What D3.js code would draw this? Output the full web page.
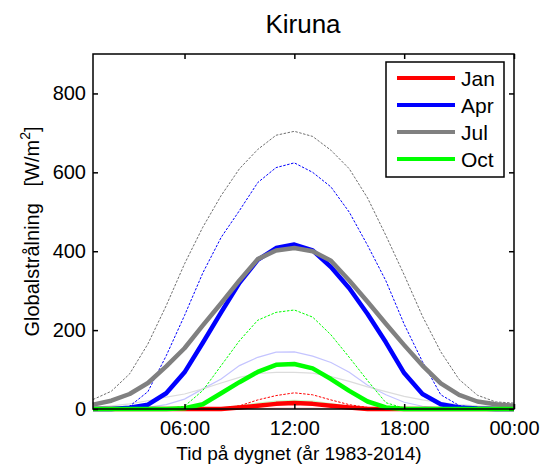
<!DOCTYPE html>
<html>
<head>
<meta charset="utf-8">
<script src="https://cdn.jsdelivr.net/npm/d3@7"></script>
<style>
  body { margin: 0; background: #fff; }
  svg { font-family: "Liberation Sans", Arial, sans-serif; }
</style>
</head>
<body>
<svg id="chart" width="546" height="468"></svg>
<script>
// hour of day (1..24), ticks and labels
var hours = [1,2,3,4,5,6,7,8,9,10,11,12,13,14,15,16,17,18,19,20,21,22,23,24];
var xTicks = [6, 12, 18, 24];
var xTickLabels = ["06:00", "12:00", "18:00", "00:00"];
var yTicks = [0, 200, 400, 600, 800];
var months = ["Jan", "Apr", "Jul", "Oct"];

// mean values (thick lines), W/m2
var janMean = [0,0,0,0,0,0,0,0,4,8,13,15,13,8,4,0,0,0,0,0,0,0,0,0];
var aprMean = [0,0,3,11,40,93,168,245,320,378,408,417,402,360,306,241,169,91,38,12,4,1,0,0];
var julMean = [11,21,38,66,108,154,212,268,326,380,402,408,400,376,326,272,216,162,110,65,36,19,12,8];
var octMean = [0,0,0,0,0,2,12,40,68,94,112,114,103,76,46,19,4,0,0,0,0,0,0,0];

// max values (thin dashed lines)
var janMax = [0,0,0,0,0,0,0,2,8,23,34,41,36,23,11,4,0,0,0,0,0,0,0,0];
var aprMax = [0,1,7,44,135,237,345,435,503,574,612,624,600,563,499,415,325,215,120,36,9,2,0,0];
var julMax = [24,45,89,165,262,368,461,541,609,658,694,704,691,656,609,535,440,340,235,145,75,35,18,15];
var octMax = [0,0,0,0,0,7,47,110,173,225,245,251,233,188,131,72,16,2,0,0,0,0,0,0];

// min values (faint lines)
var janMin = [0,0,0,0,0,0,0,0,0,1,2,2,2,1,0,0,0,0,0,0,0,0,0,0];
var aprMin = [0,0,1,4,11,25,51,76,110,131,144,145,134,118,93,60,36,17,7,2,0,0,0,0];
var julMin = [4,8,13,21,30,38,51,66,80,90,93,93,91,82,70,56,44,32,23,16,11,8,7,6];
var octMin = [0,0,0,0,0,0,0,3,8,15,20,22,20,14,7,2,0,0,0,0,0,0,0,0];

var colors = ["#ff0000", "#0000ff", "#808080", "#00ff00"];
var faint = ["#ffc8c8", "#c4c4ff", "#dcdcdc", "#c4ffc4"];

var svg = d3.select("#chart"),
  margin = {top: 54, right: 32, bottom: 59, left: 93},
  width = +svg.attr("width") - margin.left - margin.right,
  height = +svg.attr("height") - margin.top - margin.bottom,
  g = svg.append("g").attr("transform", "translate(" + margin.left + "," + margin.top + ")");

var x = d3.scaleLinear().domain([1, 24]).range([0, width]);
var y = d3.scaleLinear().domain([0, 900]).range([height, 0]);

var line = d3.line()
  .x(function(d, i) { return x(hours[i]); })
  .y(function(d) { return y(d); });

var means = [janMean, aprMean, julMean, octMean];
var maxes = [janMax, aprMax, julMax, octMax];
var mins = [janMin, aprMin, julMin, octMin];

// faint min lines
mins.forEach(function(s, i) {
  g.append("path")
    .attr("d", line(s))
    .style("fill", "none")
    .style("stroke", faint[i])
    .style("stroke-width", 1.2);
});

// dashed max lines
maxes.forEach(function(s, i) {
  g.append("path")
    .attr("d", line(s))
    .style("fill", "none")
    .style("stroke", i == 2 ? "#707070" : colors[i])
    .style("stroke-width", 1)
    .style("stroke-dasharray", "2.5,1.5");
});

// thick mean lines
means.forEach(function(s, i) {
  g.append("path")
    .attr("d", line(s))
    .style("fill", "none")
    .style("stroke", colors[i])
    .style("stroke-width", 4.5)
    .style("stroke-linejoin", "round");
});

// axes, ticks inside on all four sides
var xAxis = d3.axisBottom(x).tickValues(xTicks)
  .tickFormat(function(d, i) { return xTickLabels[i]; })
  .tickSize(-5).tickPadding(12);
var yAxis = d3.axisLeft(y).tickValues(yTicks).tickSize(-5).tickPadding(7);

g.append("g")
  .attr("transform", "translate(0," + height + ")")
  .call(xAxis);
g.append("g").call(yAxis);
g.append("g").call(d3.axisTop(x).tickValues(xTicks).tickFormat("").tickSize(-5));
g.append("g").attr("transform", "translate(" + width + ",0)")
  .call(d3.axisRight(y).tickValues(yTicks).tickFormat("").tickSize(-5));

g.selectAll(".domain").remove();
g.selectAll(".tick line").style("stroke", "#000").style("stroke-width", 1.5);
g.selectAll(".tick text")
  .style("font-size", "20px")
  .style("font-family", "Liberation Sans, Arial, sans-serif")
  .attr("fill", "#000");

g.append("rect")
  .attr("width", width)
  .attr("height", height)
  .style("fill", "none")
  .style("stroke", "#000")
  .style("stroke-width", 1.5);

// title and labels
svg.append("text")
  .attr("x", 303)
  .attr("y", 33)
  .attr("text-anchor", "middle")
  .style("font-size", "26px")
  .text("Kiruna");

svg.append("text")
  .attr("x", 299)
  .attr("y", 460)
  .attr("text-anchor", "middle")
  .style("font-size", "19px")
  .text("Tid på dygnet (år 1983-2014)");

var ylab = svg.append("text")
  .attr("transform", "translate(39," + (margin.top + height / 2) + ") rotate(-90)")
  .attr("text-anchor", "middle")
  .style("font-size", "20px")
  .style("white-space", "pre");
ylab.append("tspan").text("Globalstrålning   [W/m");
ylab.append("tspan").attr("dy", -9).style("font-size", "14px").text("2");
ylab.append("tspan").attr("dy", 9).text("]");

// legend
var key = svg.append("g")
  .attr("class", "legend")
  .attr("transform", "translate(386,62)");

key.append("rect")
  .attr("width", 118)
  .attr("height", 115)
  .style("fill", "#fff")
  .style("stroke", "#000")
  .style("stroke-width", 1.5);

months.forEach(function(m, i) {
  var ly = 16 + i * 27;
  key.append("line")
    .attr("x1", 11).attr("x2", 69)
    .attr("y1", ly).attr("y2", ly)
    .style("stroke", colors[i])
    .style("stroke-width", 4);
  key.append("text")
    .attr("x", 75)
    .attr("y", ly)
    .attr("dy", "0.36em")
    .style("font-size", "21px")
    .text(m);
});
</script>
</body>
</html>
